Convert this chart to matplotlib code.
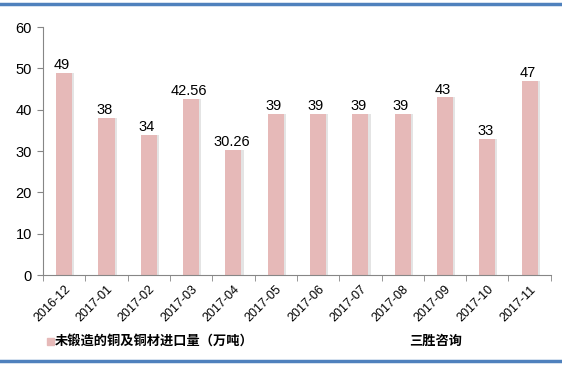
import matplotlib
matplotlib.use("Agg")
import matplotlib.pyplot as plt
from matplotlib.lines import Line2D
from matplotlib.patches import Rectangle
import numpy as np

plt.rcParams['font.family'] = ['Noto Sans CJK SC', 'DejaVu Sans']

categories = ["2016-12", "2017-01", "2017-02", "2017-03", "2017-04", "2017-05",
              "2017-06", "2017-07", "2017-08", "2017-09", "2017-10", "2017-11"]
values = [49, 38, 34, 42.56, 30.26, 39, 39, 39, 39, 43, 33, 47]
labels = ["49", "38", "34", "42.56", "30.26", "39", "39", "39", "39", "43", "33", "47"]
yticks = [0, 10, 20, 30, 40, 50, 60]
legend_label = "未锻造的铜及铜材进口量（万吨）"
source_label = "三胜咨询"

fig = plt.figure(figsize=(5.62, 3.66), dpi=100)
ax = fig.add_axes([0.0765, 0.2486, 0.9035, 0.6774])

x = np.arange(len(categories))
w = 0.38
# shadow
ax.bar(x + 0.05, values, width=w, color="#e4e4e4", zorder=1)
ax.bar(x, values, width=w, color="#E6B9B8", zorder=2)

for xi, v, lb in zip(x, values, labels):
    ax.text(xi - 0.05, v + 0.2, lb, ha="center", va="bottom", fontsize=10.5,
            family=["Liberation Sans"], color="#000000", zorder=3)

ax.set_xlim(-0.5, len(categories) - 0.5)
ax.set_ylim(0, 60)
ax.set_yticks(yticks)
ax.set_yticklabels([str(t) for t in yticks], fontsize=10.5, family=["Liberation Sans"])
ax.set_xticks(x)
ax.set_xticklabels(categories, rotation=45, ha="right", rotation_mode="anchor", fontsize=9,
                   family=["Liberation Sans"])
ax.tick_params(axis="x", length=0, pad=6)
ax.set_xticks(np.arange(-0.5, len(categories)), minor=True)
ax.tick_params(axis="x", which="minor", length=4, color="#868686", direction="out")
ax.tick_params(axis="y", length=4, color="#868686", direction="out", pad=4)

for s in ["top", "right"]:
    ax.spines[s].set_visible(False)
for s in ["left", "bottom"]:
    ax.spines[s].set_color("#868686")
    ax.spines[s].set_linewidth(0.8)

# decorative frame lines
fig.add_artist(Line2D([0, 1], [1 - 4/366, 1 - 4/366], color="#4F81BD", lw=2.5, transform=fig.transFigure))
fig.add_artist(Line2D([0, 1], [1 - 361/366, 1 - 361/366], color="#4F81BD", lw=2.5, transform=fig.transFigure))

# legend
fig.add_artist(Rectangle((47/562, 1 - 345/366), 7/562, 7/366, color="#E6B9B8", transform=fig.transFigure))
fig.text(55/562, 1 - 341/366, legend_label, fontsize=9.5, fontweight="bold", va="center", ha="left")
fig.text(409/562, 1 - 341/366, source_label, fontsize=9.5, fontweight="bold", va="center", ha="left")

fig.savefig("out.png", dpi=100)
